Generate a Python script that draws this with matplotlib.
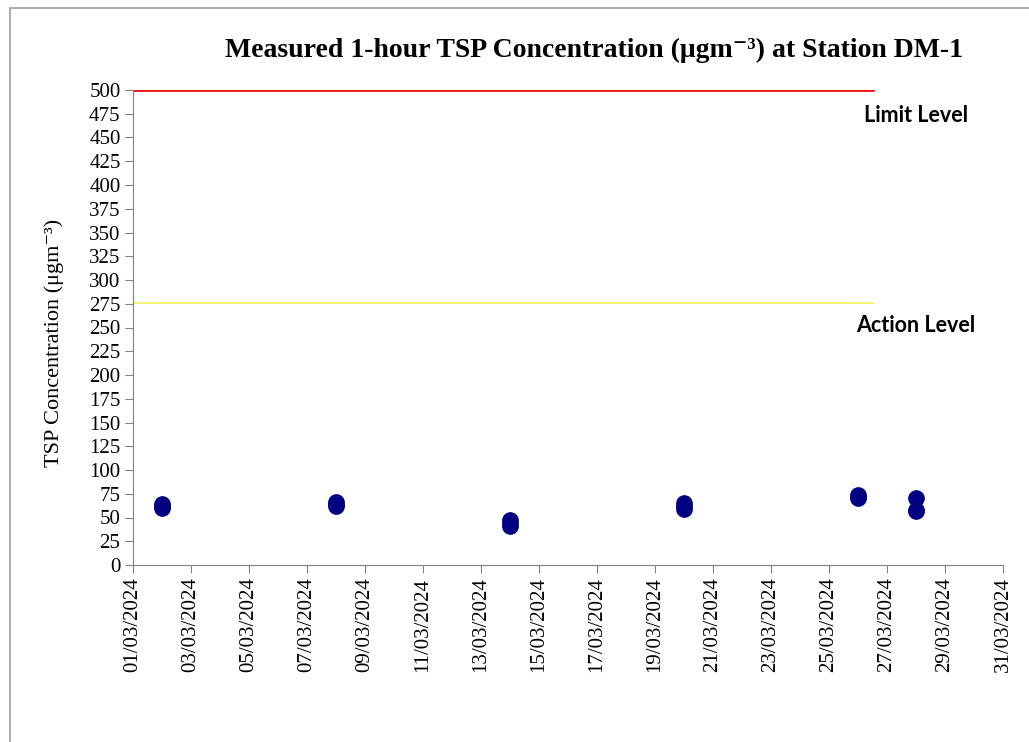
import datetime as dt
import matplotlib
matplotlib.use('Agg')
import matplotlib.pyplot as plt
import matplotlib.dates as mdates
from matplotlib.patches import Rectangle

# Measured 1-hour TSP values (three per monitoring day)
days = [2, 2, 2, 8, 8, 8, 14, 14, 14, 20, 20, 20, 26, 26, 26, 28, 28, 28]
tsp = [60, 62, 64, 62, 64, 66, 41, 44, 47, 59, 62, 65, 71, 72, 74, 57, 58, 71]

limit_level = 500
action_level = 276
level_end_day = 26.5

tick_days = list(range(1, 32, 2))
y_ticks = list(range(0, 501, 25))

dates = [dt.datetime(2024, 3, d) for d in days]
start = dt.datetime(2024, 3, 1)
end = dt.datetime(2024, 3, 31)
level_end = start + dt.timedelta(days=level_end_day - 1)

serif = ['Liberation Serif', 'DejaVu Serif']

fig = plt.figure(figsize=(10.29, 7.42), dpi=100)
fig.patches.append(Rectangle((10 / 1029, -0.1), 1.2, 1 - 8 / 742 + 0.1,
                             transform=fig.transFigure, fill=False,
                             edgecolor='#a0a0a0', lw=1.2))
ax = fig.add_axes([133 / 1029, 1 - 565 / 742, 870 / 1029, 475 / 742])

ax.plot([start, level_end], [limit_level, limit_level], color='#ee1111', lw=2)
ax.plot([start, level_end], [action_level, action_level], color='#f2f25a', lw=1.2)
ax.plot(dates, tsp, 'o', color='#000080', markersize=11, linestyle='none')

ax.set_xlim(start, end)
ax.set_ylim(0, 500)
ax.set_yticks(y_ticks)
ax.set_xticks([dt.datetime(2024, 3, d) for d in tick_days])
ax.xaxis.set_major_formatter(mdates.DateFormatter('%d/%m/%Y'))

for lab in ax.get_yticklabels():
    lab.set_fontfamily(serif)
    lab.set_fontsize(15)
for lab in ax.get_xticklabels():
    lab.set_fontfamily(serif)
    lab.set_fontsize(15)
    lab.set_rotation(90)

for s in ['top', 'right']:
    ax.spines[s].set_visible(False)
for s in ['left', 'bottom']:
    ax.spines[s].set_color('#808080')
ax.tick_params(axis='both', colors='#808080', length=6, labelcolor='black', pad=3)

ax.set_ylabel('TSP Concentration (μgm\u207b\u00b3)', fontfamily=serif, fontsize=16)
ax.yaxis.set_label_coords(-0.079, 0.467)
fig.text(0.577, 1 - 50 / 742, 'Measured 1-hour TSP Concentration (μgm\u207b\u00b3) at Station DM-1',
         ha='center', va='center', fontfamily=serif, fontweight='bold', fontsize=20)

ax.text(dt.datetime(2024, 3, 28), 473, 'Limit Level', ha='center', va='center',
        fontfamily='Lato', fontweight='bold', fontsize=15.5)
ax.text(dt.datetime(2024, 3, 28), 252, 'Action Level', ha='center', va='center',
        fontfamily='Lato', fontweight='bold', fontsize=15.5)

fig.savefig('out.png', dpi=100)
